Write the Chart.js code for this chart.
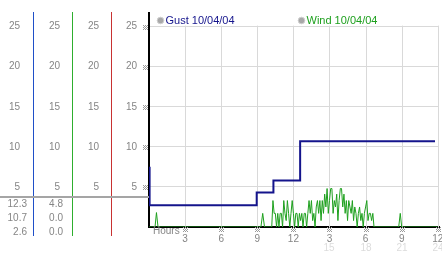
<!DOCTYPE html>
<html>
<head>
<meta charset="utf-8">
<script src="https://cdn.jsdelivr.net/npm/chart.js@4/dist/chart.umd.min.js"></script>
<style>
html,body{margin:0;padding:0;background:#fff;}
canvas{display:block;}
</style>
</head>
<body>
<canvas id="c" width="442" height="253"></canvas>
<script>
// ---- data ----
const seriesNames = ['Gust 10/04/04', 'Wind 10/04/04'];
const gustHours = [0, 0.05, 8.95, 10.34, 12.56, 23.77];
const gustSpeed = [7.4, 2.7, 4.3, 5.8, 10.7, 10.7];
const windHours = [0, 0.5, 0.62, 0.75, 9.3, 9.45, 9.6,
  10.2,10.3,10.4,10.5,10.6,10.7,10.8,10.9,11.0,11.1,11.2,11.3,11.4,11.5,11.6,11.7,11.8,11.9,
  12.0,12.1,12.2,12.3,12.4,12.5,12.6,12.7,12.8,12.9,13.0,13.1,13.2,13.3,13.4,13.5,13.6,13.7,13.8,13.9,
  14.0,14.1,14.2,14.3,14.4,14.5,14.6,14.7,14.8,14.9,15.0,15.1,15.2,15.3,15.4,15.5,15.6,15.7,15.8,15.9,
  16.0,16.1,16.2,16.3,16.4,16.5,16.6,16.7,16.8,16.9,17.0,17.1,17.2,17.3,17.4,17.5,17.6,17.7,17.8,17.9,
  18.0,18.1,18.2,18.3,18.4,18.5,18.6,18.7, 20.75, 20.88, 21.0, 24.0];
const windSpeed = [0, 0, 1.8, 0, 0, 1.7, 0,
  0,3.3,1.7,1.7,0,1.7,0,1.7,1.7,0,3.3,1.7,0.8,3.3,1.7,0,1.7,3.3,
  1.7,0,1.7,1.7,0,1.7,0.8,1.7,0,1.7,1.7,0,1.7,3.3,1.7,3.3,0.8,1.7,0,2.5,
  3.3,1.7,3.3,0.8,3.3,1.7,4.1,2.5,4.8,1.7,3.3,4.8,4.8,1.7,3.3,2.5,4.1,0.8,3.3,4.8,
  4.8,2.5,4.1,1.7,3.3,0.8,3.3,2.5,1.7,3.3,0.8,2.5,1.7,0,1.7,2.5,0.8,1.7,0,1.7,
  2.5,3.3,0.8,1.7,1.7,0.8,1.7,0, 0, 1.7, 0, 0];
const panelTicks = [5, 10, 15, 20, 25];
const gustStats = ['12.3', '10.7', '2.6'];
const windStats = ['4.8', '0.0', '0.0'];
const hourTicks = [3, 6, 9, 12, 15, 18, 21, 24];
const hourLabels = ['3', '6', '9', '12', '3', '6', '9', '12'];
const hourLabels2 = ['', '', '', '', '15', '18', '21', '24'];

const FONT = '"Liberation Sans", Arial, sans-serif';
const GRAY = '#858585';
const GUST_COLOR = '#14148c';
const WIND_COLOR = '#1ea01e';

function mark(ctx, x, y) {
  ctx.fillStyle = '#9a9a9a';
  const pts = [[-2,-2],[0,-2],[2,-2],[-1,-1],[1,-1],[-2,0],[0,0],[2,0],[-1,1],[1,1],[-2,2],[0,2],[2,2]];
  for (const p of pts) ctx.fillRect(x + p[0], y + p[1], 1, 1);
}

const decor = {
  id: 'decor',
  beforeDatasetsDraw(chart) {
    const ctx = chart.ctx, xs = chart.scales.x, ys = chart.scales.y;
    ctx.save();
    ctx.strokeStyle = '#d9d9d9';
    ctx.lineWidth = 1;
    const top = ys.getPixelForValue(25) - 1;
    for (const h of hourTicks) {
      const x = Math.round(xs.getPixelForValue(h)) + 0.5;
      ctx.beginPath(); ctx.moveTo(x, top); ctx.lineTo(x, chart.chartArea.bottom); ctx.stroke();
    }
    ctx.restore();
  },
  afterDraw(chart) {
    const ctx = chart.ctx, xs = chart.scales.x, ys = chart.scales.y;
    ctx.save();
    // left panel vertical lines
    const cols = [[33, '#1f4fc8'], [72, '#2eae2e'], [111, '#c83232']];
    for (const [x, c] of cols) {
      ctx.fillStyle = c;
      ctx.fillRect(x, 12, 1, 224);
    }
    // separator line
    ctx.fillStyle = '#a5a5a5';
    ctx.fillRect(0, 196, chart.chartArea.left, 2);
    // panel tick labels
    ctx.font = '10px ' + FONT;
    ctx.textAlign = 'right';
    ctx.textBaseline = 'middle';
    const rights = [20, 60, 99, 137];
    for (const v of panelTicks) {
      const y = ys.getPixelForValue(v);
      for (const r of rights) { ctx.fillStyle = GRAY; ctx.fillText(String(v), r, y); }
      mark(ctx, 145, Math.round(y));
    }
    // stats
    ctx.fillStyle = GRAY;
    const statY = [204, 218.5, 232.5];
    gustStats.forEach((s, i) => ctx.fillText(s, 27, statY[i]));
    windStats.forEach((s, i) => ctx.fillText(s, 63, statY[i]));
    // x axis decorations
    ctx.textAlign = 'left';
    ctx.fillStyle = GRAY;
    ctx.fillText('Hours', xs.getPixelForValue(0) + 4, 231.5);
    ctx.textAlign = 'center';
    hourTicks.forEach((h, i) => {
      const x = Math.round(xs.getPixelForValue(h));
      mark(ctx, x, 229);
      if (hourLabels2[i]) { ctx.fillStyle = '#dcdcdc'; ctx.fillText(hourLabels2[i], x, 248); }
    });
    // legend
    ctx.textAlign = 'left';
    ctx.font = '11px ' + FONT;
    const legX = [160.5, 301.5];
    chart.data.datasets.forEach((ds, i) => {
      ctx.beginPath();
      ctx.arc(legX[i], 20.5, 3.3, 0, Math.PI * 2);
      ctx.fillStyle = '#a8a8a8'; ctx.fill();
      ctx.strokeStyle = '#cfcfcf'; ctx.lineWidth = 1; ctx.stroke();
      ctx.fillStyle = ds.borderColor;
      ctx.fillText(ds.label, legX[i] + 5, 21);
    });
    ctx.restore();
  }
};

new Chart(document.getElementById('c'), {
  type: 'line',
  data: {
    datasets: [
      { label: seriesNames[0], data: gustHours.map((h, i) => ({ x: h, y: gustSpeed[i] })),
        borderColor: GUST_COLOR, borderWidth: 2, pointRadius: 0, stepped: 'before', fill: false, order: 1 },
      { label: seriesNames[1], data: windHours.map((h, i) => ({ x: h, y: windSpeed[i] })),
        borderColor: WIND_COLOR, borderWidth: 1, pointRadius: 0, tension: 0, fill: false, order: 2 }
    ]
  },
  options: {
    responsive: false,
    animation: false,
    events: [],
    layout: { padding: { left: 149, right: 3, top: 13, bottom: 0 } },
    plugins: { legend: { display: false }, tooltip: { enabled: false } },
    scales: {
      x: {
        type: 'linear', min: 0, max: 24.1,
        grid: { display: false },
        border: { color: '#000', width: 2 },
        afterBuildTicks: s => { s.ticks = hourTicks.map(v => ({ value: v })); },
        afterFit: s => { s.height = 26; },
        ticks: {
          autoSkip: false, maxRotation: 0, padding: -2,
          color: GRAY, font: { size: 10, family: FONT },
          callback: v => { const i = hourTicks.indexOf(v); return i >= 0 ? hourLabels[i] : ''; }
        }
      },
      y: {
        min: 0, max: 26.7,
        grid: { color: '#d9d9d9', drawTicks: false },
        border: { color: '#000', width: 2 },
        afterBuildTicks: s => { s.ticks = panelTicks.map(v => ({ value: v })); },
        afterFit: s => { s.width = 0; },
        ticks: { display: false }
      }
    }
  },
  plugins: [decor]
});
</script>
</body>
</html>
